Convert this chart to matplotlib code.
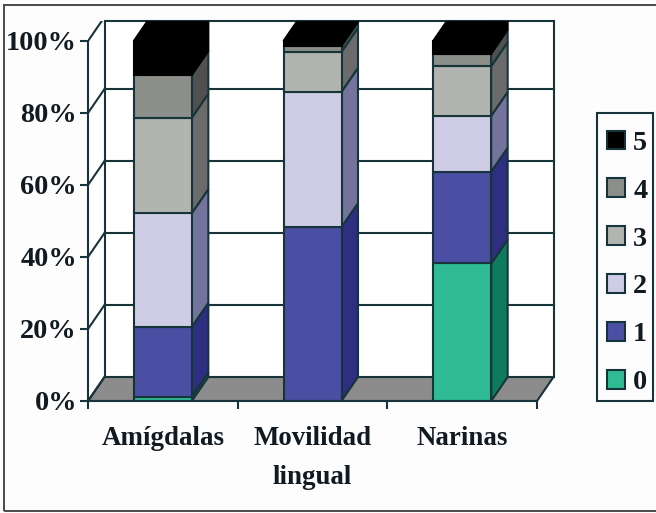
import numpy as np
import matplotlib
matplotlib.use("Agg")
import matplotlib.pyplot as plt
from matplotlib.patches import Patch, Polygon, Rectangle

plt.rcParams['font.family'] = ['Liberation Serif', 'DejaVu Serif']
plt.rcParams['font.weight'] = 'bold'

# Data (percent, stacked from 0 up to 5)
categories = ['Amígdalas', 'Movilidad\nlingual', 'Narinas']
levels = ['0', '1', '2', '3', '4', '5']
level_0 = [1.2, 0.0, 38.2]
level_1 = [19.4, 48.3, 25.5]
level_2 = [31.6, 37.6, 15.5]
level_3 = [26.5, 11.1, 13.8]
level_4 = [11.9, 1.7, 3.5]
level_5 = [9.4, 1.3, 3.5]
series = [level_0, level_1, level_2, level_3, level_4, level_5]

front_colors = ['#2FBB94', '#4A4FA3', '#CFCDE6', '#B2B4B0', '#8C8E8A', '#000000']
side_colors = ['#0F7A5E', '#2E2F80', '#73739B', '#6B6B6B', '#505050', '#000000']
line_col = '#16343A'
floor_col = '#8C8C8C'

W, H = 656, 513
# pixel layout of the front plane
left_px, right_px, bottom_px, top_px = 88, 537, 401, 41
clip_top_px = 21
px_x = (right_px - left_px) / 3.0    # pixels per category
px_y = (bottom_px - top_px) / 100.0  # pixels per percent
depth_x = 16.5 / px_x
depth_y = 24 / px_y
bar_w = 58 / px_x
axes_right_px = 560

fig = plt.figure(figsize=(W / 100, H / 100), dpi=100, facecolor='#FDFDFE')
ax = fig.add_axes([left_px / W, 1 - bottom_px / H,
                   (axes_right_px - left_px) / W, (bottom_px - clip_top_px) / H])
ax.set_xlim(0, (axes_right_px - left_px) / px_x)
ax.set_ylim(0, (bottom_px - clip_top_px) / px_y)
ax.patch.set_visible(False)

top_y = (bottom_px - clip_top_px) / px_y
lw = 1.5

# outer frame of the picture
fig.add_artist(Rectangle((4 / W, 1 - 511 / H), 680 / W, 506 / H, fill=False,
                         edgecolor='#4A4A4A', linewidth=1.4,
                         transform=fig.transFigure))

# walls
ax.add_patch(Polygon([(0, 0), (depth_x, depth_y), (3 + depth_x, depth_y),
                      (3 + depth_x, top_y), (depth_x, top_y), (0, 100)],
                     facecolor='white', edgecolor='none', zorder=1))
# floor
ax.add_patch(Polygon([(0, 0), (depth_x, depth_y), (3 + depth_x, depth_y), (3, 0)],
                     facecolor=floor_col, edgecolor=line_col, linewidth=lw, zorder=2))
# gridlines on back wall and diagonals on side wall
for v in range(20, 101, 20):
    ax.plot([depth_x, 3 + depth_x], [v + depth_y] * 2, color=line_col, lw=lw, zorder=2)
    ax.plot([0, depth_x], [v, v + depth_y], color=line_col, lw=lw, zorder=2)
ax.plot([0, depth_x], [0, depth_y], color=line_col, lw=lw, zorder=2)
ax.plot([depth_x, depth_x], [depth_y, top_y], color=line_col, lw=lw, zorder=2)
ax.plot([3 + depth_x] * 2, [depth_y, top_y], color=line_col, lw=lw, zorder=2)
ax.plot([depth_x, 3 + depth_x], [top_y, top_y], color=line_col, lw=lw, zorder=2,
        clip_on=False)

# bars, drawn as front face + side face + top
centers = np.arange(len(categories)) + 0.5
for c_i, c in enumerate(centers):
    x0 = c - bar_w / 2
    x1 = c + bar_w / 2
    base = 0.0
    for s_i, vals in enumerate(series):
        v = vals[c_i]
        if v <= 0:
            continue
        top = base + v
        edge = '#000000' if s_i == 5 else line_col
        ax.add_patch(Polygon([(x1, base), (x1 + depth_x, base + depth_y),
                              (x1 + depth_x, top + depth_y), (x1, top)],
                             facecolor=side_colors[s_i], edgecolor=edge,
                             linewidth=lw, zorder=3))
        ax.add_patch(Rectangle((x0, base), bar_w, v, facecolor=front_colors[s_i],
                               edgecolor=edge, linewidth=lw, zorder=4))
        base = top
    ax.add_patch(Polygon([(x0, base), (x0 + depth_x, base + depth_y),
                          (x1 + depth_x, base + depth_y), (x1, base)],
                         facecolor=front_colors[-1], edgecolor='#000000',
                         linewidth=lw, zorder=3))

# axes
for name in ['top', 'right']:
    ax.spines[name].set_visible(False)
ax.spines['left'].set_bounds(0, 100)
ax.spines['bottom'].set_bounds(0, 3)
for name in ['left', 'bottom']:
    ax.spines[name].set_color(line_col)
    ax.spines[name].set_linewidth(lw)
    ax.spines[name].set_zorder(6)

ax.set_yticks(range(0, 101, 20))
ax.set_yticklabels(['%d%%' % v for v in range(0, 101, 20)])
ax.set_xticks(range(4))
ax.set_xticklabels([])
ax.set_xticks(centers, minor=True)
ax.set_xticklabels(categories, minor=True)
ax.tick_params(axis='y', length=6, width=lw, color=line_col, labelsize=20.3,
               labelcolor='#101A20', pad=2)
ax.tick_params(axis='x', which='major', length=6, width=lw, color=line_col)
ax.tick_params(axis='x', which='minor', length=0, labelsize=19.4,
               labelcolor='#101A20', pad=18)
for t in ax.get_xticklabels(minor=True):
    t.set_linespacing(1.75)

# legend: box drawn on its own so the row padding can differ from the side padding
fig.add_artist(Rectangle((597 / W, 1 - 401 / H), 56 / W, 288 / H, facecolor='#FDFDFE',
                         edgecolor=line_col, linewidth=lw, transform=fig.transFigure))
handles = [Patch(facecolor=front_colors[i], edgecolor=line_col, linewidth=lw,
                 label=levels[i]) for i in range(5, -1, -1)]
leg = fig.legend(handles=handles, loc='upper left',
                 bbox_to_anchor=(607 / W, 1 - 130.5 / H),
                 bbox_transform=fig.transFigure, fontsize=20.3, frameon=False,
                 handlelength=0.65, handleheight=0.65,
                 handletextpad=0.28, labelspacing=0.8, borderpad=0,
                 borderaxespad=0)
for t in leg.get_texts():
    t.set_color('#101A20')

fig.savefig('out.png', dpi=100, facecolor=fig.get_facecolor())
